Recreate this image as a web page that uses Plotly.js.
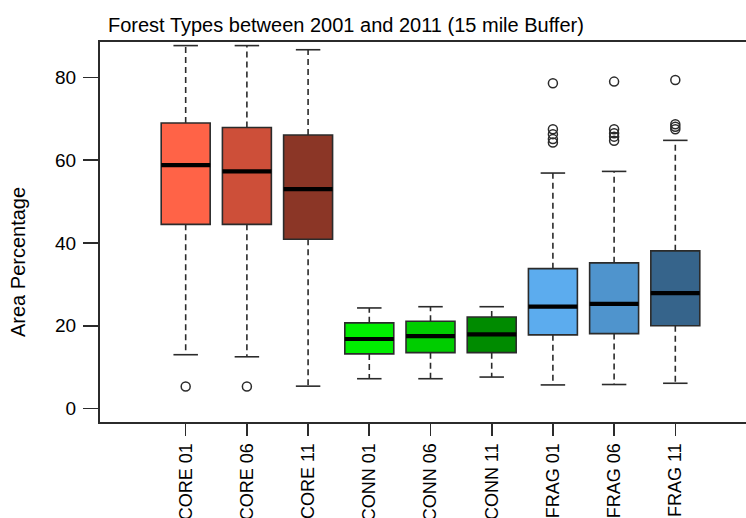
<!DOCTYPE html>
<html>
<head>
<meta charset="utf-8">
<script src="https://cdn.plot.ly/plotly-3.0.1.min.js"></script>
<style>
  html, body { margin: 0; padding: 0; background: #ffffff; }
  #chart { width: 746px; height: 518px; }
</style>
</head>
<body>
<div id="chart"></div>
<script>
// ---- Data ----
var categories = ['CORE 01', 'CORE 06', 'CORE 11', 'CONN 01', 'CONN 06', 'CONN 11', 'FRAG 01', 'FRAG 06', 'FRAG 11'];
var upperWhisker = [87.7, 87.7, 86.7, 24.3, 24.6, 24.6, 56.9, 57.3, 64.8];
var q3Values     = [69.0, 67.9, 66.1, 20.7, 21.1, 22.1, 33.8, 35.2, 38.1];
var medianValues = [58.8, 57.3, 53.0, 16.8, 17.5, 17.9, 24.6, 25.3, 27.9];
var q1Values     = [44.5, 44.5, 40.9, 13.2, 13.5, 13.5, 17.8, 18.1, 20.0];
var lowerWhisker = [13.0, 12.5, 5.4, 7.2, 7.2, 7.6, 5.7, 5.8, 6.1];
var outlierValues = [
  [5.3],
  [5.3],
  [],
  [],
  [],
  [],
  [78.6, 67.5, 66.3, 65.1, 64.3],
  [79.0, 67.5, 66.5, 65.7, 64.7],
  [79.4, 68.7, 68.1, 67.5]
];
var boxColors = ['#FF6347', '#CD4F39', '#8B3626', '#00EE00', '#00CD00', '#008B00', '#5CACEE', '#4F94CD', '#36648B'];
var yTickValues = [0, 20, 40, 60, 80];

// ---- Styling ----
var LINE = '#2b2b2b';
var BOX_W = 0.8;
var CAP_HALF = 0.2;
var FONT = 'Liberation Sans, Arial, Helvetica, sans-serif';

var positions = categories.map(function (c, i) { return i + 1; });
var traces = [];

// Boxes (whiskers drawn separately, dashed)
categories.forEach(function (cat, i) {
  traces.push({
    type: 'box',
    name: cat,
    x: [positions[i]],
    q1: [q1Values[i]],
    median: [medianValues[i]],
    q3: [q3Values[i]],
    lowerfence: [q1Values[i]],
    upperfence: [q3Values[i]],
    width: BOX_W,
    whiskerwidth: 0,
    fillcolor: boxColors[i],
    line: { color: LINE, width: 1.6 },
    boxpoints: false,
    hoverinfo: 'skip',
    showlegend: false
  });
});

// Dashed whiskers
var wx = [], wy = [];
categories.forEach(function (cat, i) {
  var p = positions[i];
  wx.push(p, p, null, p, p, null);
  wy.push(q3Values[i], upperWhisker[i], null, q1Values[i], lowerWhisker[i], null);
});
traces.push({
  type: 'scatter', mode: 'lines', x: wx, y: wy,
  line: { color: LINE, width: 1.6, dash: '6px,4px' },
  hoverinfo: 'skip', showlegend: false
});

// Whisker caps
var cx = [], cy = [];
categories.forEach(function (cat, i) {
  var p = positions[i];
  cx.push(p - CAP_HALF, p + CAP_HALF, null, p - CAP_HALF, p + CAP_HALF, null);
  cy.push(upperWhisker[i], upperWhisker[i], null, lowerWhisker[i], lowerWhisker[i], null);
});
traces.push({
  type: 'scatter', mode: 'lines', x: cx, y: cy,
  line: { color: LINE, width: 1.6 },
  hoverinfo: 'skip', showlegend: false
});

// Thick medians
var mx = [], my = [];
categories.forEach(function (cat, i) {
  var p = positions[i];
  mx.push(p - BOX_W / 2, p + BOX_W / 2, null);
  my.push(medianValues[i], medianValues[i], null);
});
traces.push({
  type: 'scatter', mode: 'lines', x: mx, y: my,
  line: { color: '#000000', width: 4.2 },
  hoverinfo: 'skip', showlegend: false
});

// Outliers
var ox = [], oy = [];
categories.forEach(function (cat, i) {
  outlierValues[i].forEach(function (v) { ox.push(positions[i]); oy.push(v); });
});
traces.push({
  type: 'scatter', mode: 'markers', x: ox, y: oy,
  marker: { symbol: 'circle-open', size: 9, color: LINE, line: { color: LINE, width: 1.5 } },
  hoverinfo: 'skip', showlegend: false
});

var layout = {
  width: 746,
  height: 518,
  margin: { l: 100, r: 0, t: 42, b: 96, pad: 0 },
  paper_bgcolor: '#ffffff',
  plot_bgcolor: '#ffffff',
  font: { family: FONT, color: '#000000', size: 19 },
  showlegend: false,
  title: {
    text: 'Forest Types between 2001 and 2011 (15 mile Buffer)',
    font: { family: FONT, size: 20, color: '#000000' },
    xref: 'container', x: 108 / 746, xanchor: 'left',
    yref: 'container', y: 1 - 25 / 518, yanchor: 'middle'
  },
  xaxis: {
    type: 'linear',
    range: [-0.40, 10.155],
    tickmode: 'array',
    tickvals: positions,
    ticktext: categories,
    tickangle: -90,
    ticks: 'outside',
    ticklen: 12,
    tickwidth: 1.6,
    tickcolor: LINE,
    ticklabelstandoff: 0,
    tickfont: { family: FONT, size: 18, color: '#000000' },
    showline: true,
    linecolor: LINE,
    linewidth: 2,
    mirror: true,
    showgrid: false,
    zeroline: false,
    fixedrange: true
  },
  yaxis: {
    range: [-3.26, 88.57],
    tickmode: 'array',
    tickvals: yTickValues,
    ticks: 'outside',
    ticklen: 15,
    tickwidth: 1.6,
    tickcolor: LINE,
    ticklabelstandoff: 3,
    tickfont: { family: FONT, size: 19, color: '#000000' },
    showline: true,
    linecolor: LINE,
    linewidth: 2,
    showgrid: false,
    zeroline: false,
    fixedrange: true,
    automargin: false
  },
  annotations: [{
    text: 'Area Percentage',
    textangle: -90,
    xref: 'paper', x: -82 / 646, xanchor: 'center',
    yref: 'paper', y: (422 - 262) / 380, yanchor: 'middle',
    showarrow: false,
    font: { family: FONT, size: 20, color: '#000000' }
  }]
};

Plotly.newPlot('chart', traces, layout, { displayModeBar: false, staticPlot: true });
</script>
</body>
</html>
